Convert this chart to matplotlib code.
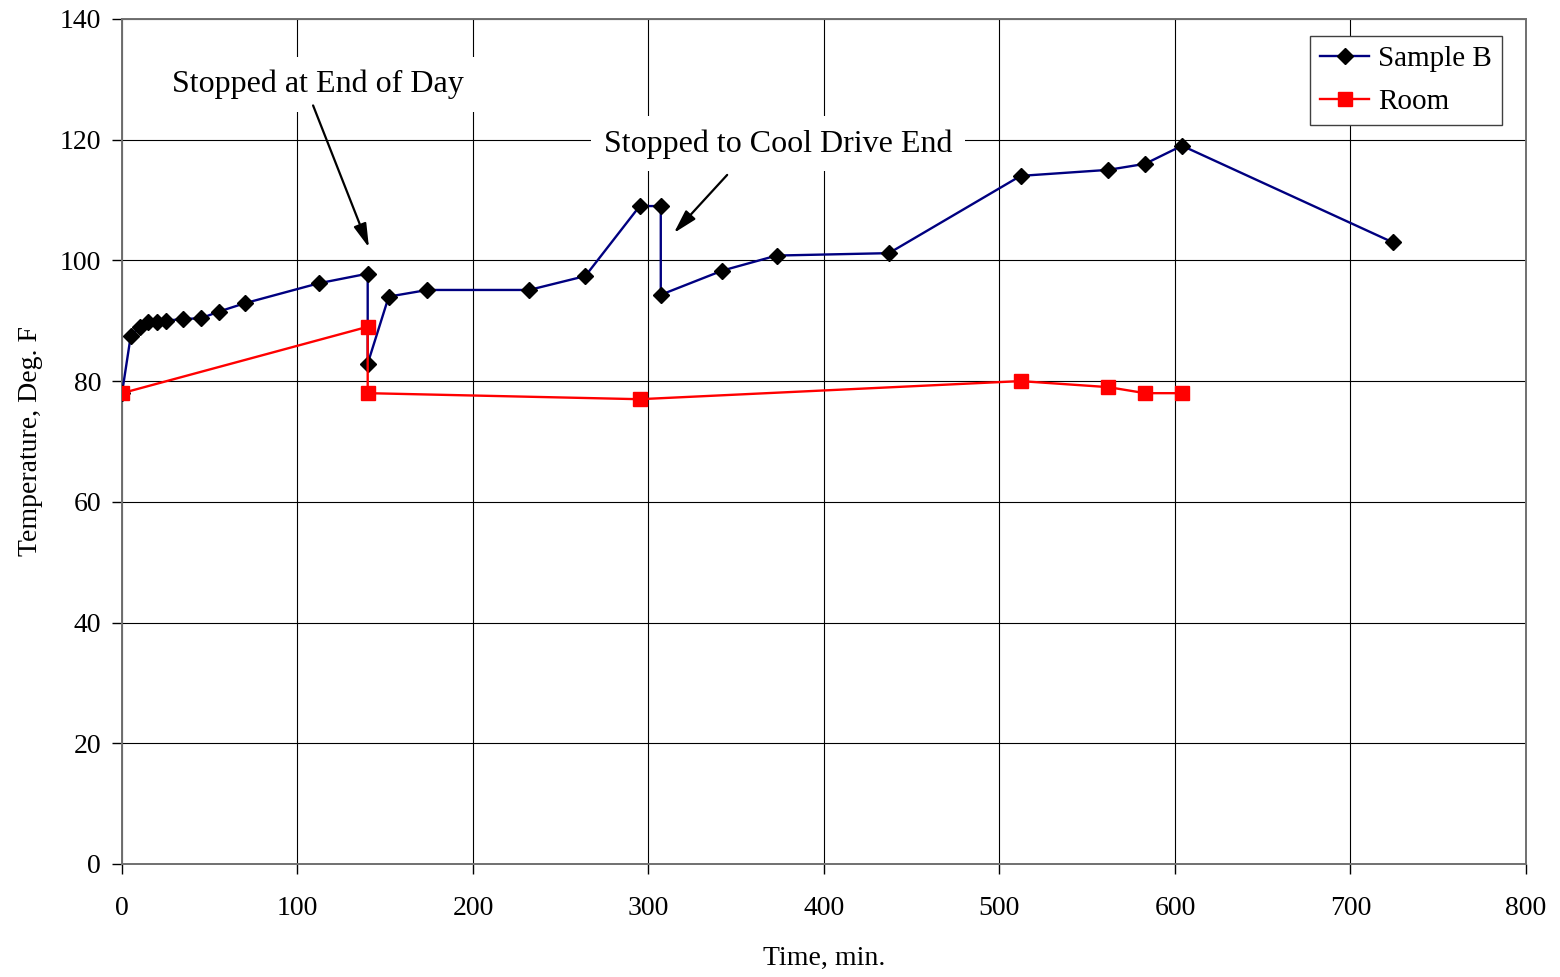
import matplotlib
matplotlib.use('Agg')
import matplotlib.pyplot as plt

# elapsed time, minutes
time_b = [0, 5, 10, 15, 20, 25, 35, 45, 55, 70, 112, 140, 140, 152, 174,
          232, 264, 295, 307, 307, 342, 373, 437, 512, 562, 583, 604, 724]
temp_b = [78, 87.5, 88.9, 89.8, 89.8, 90, 90.3, 90.4, 91.5, 92.9, 96.2, 97.8,
          82.9, 94, 95.1, 95.1, 97.4, 109, 109, 94.3, 98.3, 100.8, 101.2,
          114, 115, 116, 119, 103]

time_room = [0, 140, 140, 295, 512, 562, 583, 604]
temp_room = [78, 89, 78, 77, 80, 79, 78, 78]

x_ticks = [0, 100, 200, 300, 400, 500, 600, 700, 800]
y_ticks = [0, 20, 40, 60, 80, 100, 120, 140]

plt.rcParams['font.family'] = ['Liberation Serif', 'DejaVu Serif']

fig = plt.figure(figsize=(15.6, 9.77), dpi=100)
ax = fig.add_axes([0.0782, 0.1157, 0.9, 0.8649])

# room trace sits above the sample trace where they overlap
ax.plot(time_b, temp_b, color='#000080', lw=1.7, marker='D', ms=8.5,
        mfc='black', mec='black', label='Sample B', zorder=3)
ax.plot(time_room, temp_room, color='red', lw=1.7, marker='s', ms=10,
        mfc='red', mec='red', label='Room', zorder=4)

ax.set_xlim(0, 800)
ax.set_ylim(0, 140)
ax.set_xticks(x_ticks)
ax.set_yticks(y_ticks)
ax.tick_params(direction='out', length=7, width=1, labelsize=20)
ax.tick_params(axis='x', pad=16)
ax.tick_params(axis='y', pad=8)
ax.grid(True, color='black', lw=0.8)
ax.set_axisbelow(True)
for s in ax.spines.values():
    s.set_color('#707070')
    s.set_linewidth(1.4)

ax.set_xlabel('Time, min.', fontsize=20, labelpad=18)
ax.set_ylabel('Temperature, Deg. F', fontsize=20, labelpad=12)

# notes on the two stops
box = dict(facecolor='white', edgecolor='none', boxstyle='square,pad=0.4')
ax.text(111.7, 129.2, 'Stopped at End of Day', fontsize=23, ha='center',
        va='center', bbox=box, zorder=5)
ax.text(373.8, 119.3, 'Stopped to Cool Drive End', fontsize=23, ha='center',
        va='center', bbox=box, zorder=5)
arrow = dict(arrowstyle='-|>,head_length=0.8,head_width=0.22', color='black',
             lw=1.6, mutation_scale=18)
ax.annotate('', xy=(141.3, 101.7), xytext=(108.3, 126.1), arrowprops=arrow,
            zorder=6)
ax.annotate('', xy=(313.4, 104.2), xytext=(345.9, 114.5), arrowprops=arrow,
            zorder=6)

leg = ax.legend(loc='upper right', bbox_to_anchor=(0.983, 0.98), fontsize=21,
                fancybox=False, framealpha=1, edgecolor='#404040',
                handlelength=1.7, handletextpad=0.3, borderpad=0.35,
                labelspacing=0.55, borderaxespad=0)
leg.get_frame().set_linewidth(1.0)

fig.savefig('out.png', dpi=100)
